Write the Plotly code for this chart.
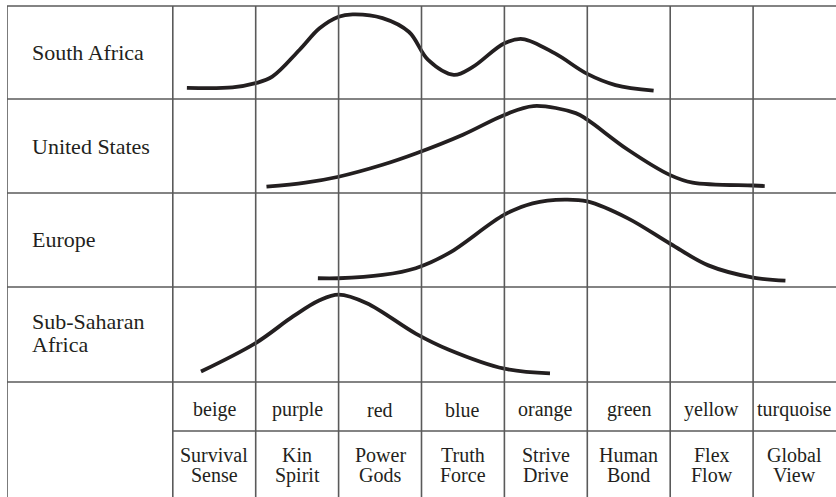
"""
Spiral Dynamics value-system profiles by region
"""
import plotly.graph_objects as go
from plotly.subplots import make_subplots

INK = "#231f20"
GRID = "#5a5a5a"
FONT = "Liberation Serif"

# ── Data ────────────────────────────────────────────────
regions = ["South Africa", "United States", "Europe", "Sub-Saharan\nAfrica"]
level_colors = ["beige", "purple", "red", "blue", "orange", "green", "yellow", "turquoise"]
level_top = ["Survival", "Kin", "Power", "Truth", "Strive", "Human", "Flex", "Global"]
level_bottom = ["Sense", "Spirit", "Gods", "Force", "Drive", "Bond", "Flow", "View"]

# x = position along the levels (0 = left edge of beige), v = height within the row (0..1)
sa_x = [0.17, 0.72, 1.0, 1.2, 1.53, 1.77, 2.0, 2.17, 2.53, 2.85, 3.08, 3.39, 3.61, 4.0, 4.22, 4.61, 5.0, 5.34, 5.8]
sa_v = [0.12, 0.125, 0.17, 0.24, 0.53, 0.76, 0.885, 0.91, 0.87, 0.72, 0.42, 0.26, 0.34, 0.6, 0.645, 0.49, 0.27, 0.15, 0.09]

us_x = [1.13, 1.6, 2.0, 2.53, 2.93, 3.5, 4.0, 4.35, 4.86, 5.0, 5.49, 6.0, 6.27, 7.0, 7.14]
us_v = [0.067, 0.11, 0.173, 0.3, 0.42, 0.62, 0.83, 0.925, 0.85, 0.78, 0.46, 0.19, 0.11, 0.08, 0.074]

eu_x = [1.75, 2.0, 2.53, 2.93, 3.33, 4.0, 4.34, 4.73, 5.0, 5.49, 6.0, 6.46, 7.0, 7.39]
eu_v = [0.093, 0.093, 0.128, 0.2, 0.36, 0.77, 0.89, 0.93, 0.91, 0.73, 0.46, 0.23, 0.10, 0.067]

ssa_x = [0.34, 1.0, 1.45, 1.77, 2.0, 2.34, 2.93, 3.33, 4.0, 4.55]
ssa_v = [0.11, 0.41, 0.69, 0.86, 0.92, 0.83, 0.51, 0.34, 0.14, 0.09]

curves = [(sa_x, sa_v), (us_x, us_v), (eu_x, eu_v), (ssa_x, ssa_v)]

# ── Figure ──────────────────────────────────────────────
fig = make_subplots(
    rows=5, cols=1,
    shared_xaxes=True,
    vertical_spacing=0,
    row_heights=[93, 94, 94, 95, 115],
)

for i, (xs, vs) in enumerate(curves):
    fig.add_trace(go.Scatter(
        x=xs, y=vs, mode="lines",
        line=dict(color=INK, width=3.8, shape="spline", smoothing=1.0),
        hoverinfo="skip",
    ), row=i + 1, col=1)

# row labels (multi-line names are set tight, one annotation per line)
for i, name in enumerate(regions):
    lines = name.split("\n")
    ys = [0.5] if len(lines) == 1 else [0.635, 0.395]
    for line, y in zip(lines, ys):
        fig.add_annotation(
            x=-1.72, y=y, text=line, showarrow=False, xanchor="left", yanchor="middle",
            font=dict(family=FONT, size=22, color=INK), row=i + 1, col=1,
        )

# bottom header rows
for j in range(len(level_colors)):
    fig.add_annotation(x=j + 0.5, y=0.757, text=level_colors[j], showarrow=False,
                       font=dict(family=FONT, size=20, color=INK), row=5, col=1)
    fig.add_annotation(x=j + 0.5, y=0.365, text=level_top[j], showarrow=False,
                       font=dict(family=FONT, size=20, color=INK), row=5, col=1)
    fig.add_annotation(x=j + 0.5, y=0.19, text=level_bottom[j], showarrow=False,
                       font=dict(family=FONT, size=20, color=INK), row=5, col=1)

# ── Grid ────────────────────────────────────────────────
shapes = []
for k in [-2] + list(range(8)):
    shapes.append(dict(type="line", xref="x", yref="paper", x0=k, x1=k, y0=0, y1=1,
                       line=dict(color=GRID, width=1.6)))
for r in range(1, 6):
    yd = "y domain" if r == 1 else f"y{r} domain"
    shapes.append(dict(type="line", xref="x", yref=yd, x0=-2, x1=8, y0=1, y1=1,
                       line=dict(color=GRID, width=1.6)))
shapes.append(dict(type="line", xref="x", yref="y5 domain", x0=0, x1=8, y0=0.574, y1=0.574,
                   line=dict(color=GRID, width=1.6)))

fig.update_layout(
    width=836, height=497,
    plot_bgcolor="white", paper_bgcolor="white",
    margin=dict(l=7, r=0, t=6, b=0),
    showlegend=False,
    shapes=shapes,
)
fig.update_xaxes(range=[-2, 8], showgrid=False, zeroline=False, showticklabels=False,
                 showline=False, ticks="")
fig.update_yaxes(range=[0, 1], showgrid=False, zeroline=False, showticklabels=False,
                 showline=False, ticks="")

# page body has a default 8px margin; drop it so the figure sits at the corner
fig.write_html("out.html", config={"displayModeBar": False},
               post_script="document.body.style.margin='0';")
